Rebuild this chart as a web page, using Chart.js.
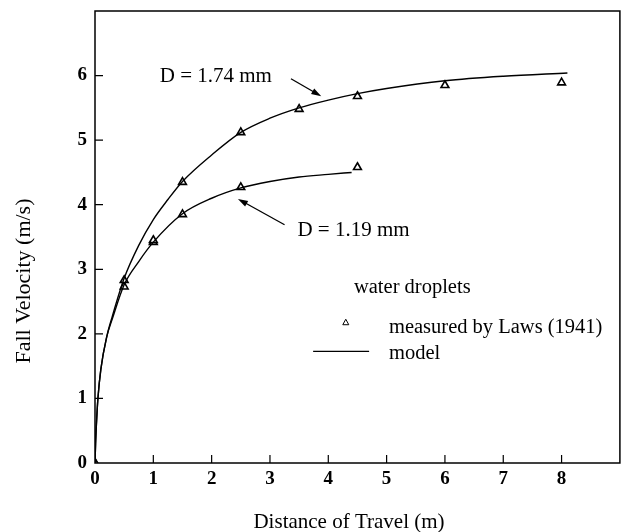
<!DOCTYPE html>
<html>
<head>
<meta charset="utf-8">
<script src="https://cdn.jsdelivr.net/npm/chart.js@4/dist/chart.umd.min.js"></script>
<style>
  html, body { margin: 0; padding: 0; background: #fff; overflow: hidden; }
  #wrap { width: 623px; height: 532px; position: relative; overflow: hidden; }
</style>
</head>
<body>
<div id="wrap"><canvas id="c" width="626" height="532"></canvas></div>
<script>
// Measured fall velocities (Laws, 1941) and model curves for two drop sizes
const distance174 = [0, 0.5, 1, 1.5, 2.5, 3.5, 4.5, 6, 8];
const measured174 = [0, 2.83, 3.45, 4.35, 5.12, 5.48, 5.68, 5.85, 5.89];
const distance119 = [0, 0.5, 1, 1.5, 2.5, 4.5];
const measured119 = [0, 2.73, 3.42, 3.85, 4.27, 4.58];

const modelX174 = [0, 0.01, 0.03, 0.05, 0.1, 0.2, 0.3, 0.5, 0.75, 1, 1.25, 1.5, 2, 2.5, 3, 3.5, 4, 4.5, 5, 6, 7, 8.1];
const modelV174 = [0, 0.3, 0.7, 1.0, 1.45, 1.95, 2.28, 2.86, 3.37, 3.77, 4.08, 4.36, 4.77, 5.12, 5.34, 5.50, 5.62, 5.72, 5.80, 5.92, 5.99, 6.04];
const modelX119 = [0, 0.01, 0.03, 0.05, 0.1, 0.2, 0.3, 0.5, 0.75, 1, 1.5, 2, 2.5, 3, 3.5, 4, 4.4];
const modelV119 = [0, 0.3, 0.7, 1.0, 1.45, 1.95, 2.24, 2.76, 3.12, 3.42, 3.86, 4.1, 4.26, 4.36, 4.43, 4.47, 4.5];

const xTicks = [0, 1, 2, 3, 4, 5, 6, 7, 8];
const yTicks = [0, 1, 2, 3, 4, 5, 6];

const FONT = '"Liberation Serif", "DejaVu Serif", serif';

const pts = (xs, ys) => xs.map((x, i) => ({ x: x, y: ys[i] }));

// Frame, inward ticks, annotations, legend and axis titles
const decorations = {
  id: 'decorations',
  afterDraw(chart) {
    const ctx = chart.ctx;
    const a = chart.chartArea;
    const xs = chart.scales.x, ys = chart.scales.y;
    const px = v => xs.getPixelForValue(v);
    const py = v => ys.getPixelForValue(v);
    ctx.save();
    ctx.strokeStyle = '#000';
    ctx.fillStyle = '#000';
    // frame
    ctx.lineWidth = 1.5;
    ctx.strokeRect(a.left, a.top, a.right - a.left, a.bottom - a.top);
    // inward ticks
    ctx.lineWidth = 1.2;
    ctx.beginPath();
    xTicks.forEach(t => { if (t > 0) { ctx.moveTo(px(t), a.bottom); ctx.lineTo(px(t), a.bottom - 8); } });
    yTicks.forEach(t => { if (t > 0) { ctx.moveTo(a.left, py(t)); ctx.lineTo(a.left + 8, py(t)); } });
    ctx.stroke();

    // annotation labels
    ctx.font = '21px ' + FONT;
    ctx.textBaseline = 'middle';
    ctx.textAlign = 'left';
    ctx.fillText('D = 1.74 mm', px(1.11), py(5.99));
    ctx.fillText('D = 1.19 mm', px(3.47), py(3.60));

    // arrows
    const arrow = (x1, y1, x2, y2) => {
      const ax = px(x1), ay = py(y1), bx = px(x2), by = py(y2);
      const ang = Math.atan2(by - ay, bx - ax);
      const len = 10, half = 3.2;
      ctx.lineWidth = 1.3;
      ctx.beginPath();
      ctx.moveTo(ax, ay);
      ctx.lineTo(bx - Math.cos(ang) * len * 0.8, by - Math.sin(ang) * len * 0.8);
      ctx.stroke();
      ctx.beginPath();
      ctx.moveTo(bx, by);
      ctx.lineTo(bx - Math.cos(ang) * len + Math.sin(ang) * half, by - Math.sin(ang) * len - Math.cos(ang) * half);
      ctx.lineTo(bx - Math.cos(ang) * len - Math.sin(ang) * half, by - Math.sin(ang) * len + Math.cos(ang) * half);
      ctx.closePath();
      ctx.fill();
    };
    arrow(3.36, 5.95, 3.88, 5.68);
    arrow(3.25, 3.69, 2.45, 4.09);

    // legend
    ctx.font = '20.5px ' + FONT;
    ctx.fillText('water droplets', px(4.44), py(2.71));
    ctx.fillText('measured by Laws (1941)', px(5.04), py(2.09));
    ctx.fillText('model', px(5.04), py(1.69));
    const tx = px(4.30), ty = py(2.18);
    ctx.lineWidth = 1;
    ctx.beginPath();
    ctx.moveTo(tx, ty - 3);
    ctx.lineTo(tx + 3, ty + 2.5);
    ctx.lineTo(tx - 3, ty + 2.5);
    ctx.closePath();
    ctx.stroke();
    ctx.lineWidth = 1.3;
    ctx.beginPath();
    ctx.moveTo(px(3.74), py(1.73));
    ctx.lineTo(px(4.70), py(1.73));
    ctx.stroke();

    // axis titles
    ctx.textAlign = 'center';
    ctx.font = '21px ' + FONT;
    ctx.fillText('Distance of Travel (m)', 349, 522);
    ctx.font = '22px ' + FONT;
    ctx.translate(24, 281);
    ctx.rotate(-Math.PI / 2);
    ctx.fillText('Fall Velocity (m/s)', 0, 0);
    ctx.restore();
  }
};

const lineStyle = {
  showLine: true, pointRadius: 0, borderColor: '#000', borderWidth: 1.4,
  cubicInterpolationMode: 'monotone', fill: false
};
const markerStyle = {
  showLine: false, pointStyle: 'triangle', pointRadius: 4.5,
  pointBackgroundColor: '#fff', pointBorderColor: '#000', pointBorderWidth: 1.6
};

new Chart(document.getElementById('c'), {
  type: 'scatter',
  data: {
    datasets: [
      Object.assign({ label: 'model D = 1.74 mm', data: pts(modelX174, modelV174) }, lineStyle),
      Object.assign({ label: 'model D = 1.19 mm', data: pts(modelX119, modelV119) }, lineStyle),
      Object.assign({ label: 'measured D = 1.74 mm', data: pts(distance174, measured174) }, markerStyle),
      Object.assign({ label: 'measured D = 1.19 mm', data: pts(distance119, measured119) }, markerStyle)
    ]
  },
  options: {
    responsive: false,
    animation: false,
    layout: { padding: { left: 0, right: 2, top: 11, bottom: 0 } },
    plugins: { legend: { display: false }, tooltip: { enabled: false } },
    scales: {
      x: {
        type: 'linear', min: 0, max: 9,
        afterFit(s) { s.height = 69; s.paddingLeft = 0; s.paddingRight = 0; },
        afterBuildTicks(s) { s.ticks = xTicks.map(v => ({ value: v })); },
        grid: { display: false, drawTicks: false },
        border: { display: false },
        ticks: { padding: 5, color: '#000', font: { family: FONT, size: 19, weight: 'bold' } }
      },
      y: {
        type: 'linear', min: 0, max: 7,
        afterFit(s) { s.width = 95; s.paddingTop = 0; s.paddingBottom = 0; },
        afterBuildTicks(s) { s.ticks = yTicks.map(v => ({ value: v })); },
        grid: { display: false, drawTicks: false },
        border: { display: false },
        ticks: { padding: 8, color: '#000', font: { family: FONT, size: 19, weight: 'bold' } }
      }
    }
  },
  plugins: [decorations]
});
</script>
</body>
</html>
